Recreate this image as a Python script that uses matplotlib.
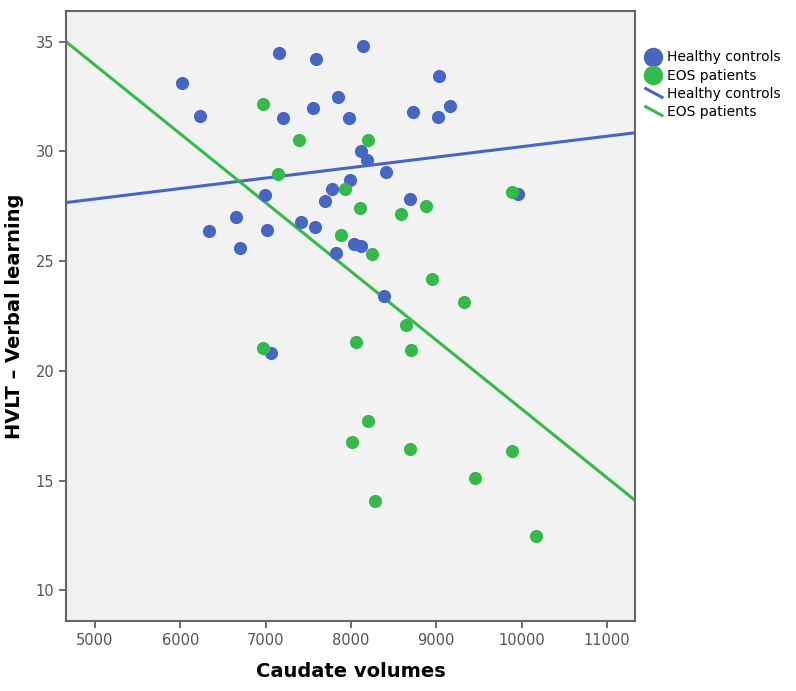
import numpy as np
import matplotlib.pyplot as plt
from matplotlib.lines import Line2D
from matplotlib.legend_handler import HandlerBase

# healthy controls (caudate volume, HVLT score)
hc_x = [6023, 6231, 7161, 7591, 7552, 7200, 6336, 6653, 6997, 6700, 7016, 7419,
        7575, 7696, 8138, 9028, 7853, 7982, 8732, 9021, 9165, 8118, 8189, 8415,
        7986, 7778, 8693, 9963, 8033, 8114, 7822, 8392, 7067]
hc_y = [33.12, 31.63, 34.48, 34.21, 31.98, 31.54, 26.36, 27.01, 28.00, 25.58, 26.40, 26.77,
        26.56, 27.76, 34.79, 33.45, 32.48, 31.54, 31.78, 31.58, 32.05, 30.00, 29.62, 29.08,
        28.68, 28.27, 27.83, 28.08, 25.78, 25.67, 25.36, 23.43, 20.83]

# EOS patients
eos_x = [6973, 7395, 7145, 8197, 7934, 8111, 8587, 8876, 9889, 7880, 8243, 8954,
         9321, 8646, 6973, 8056, 8701, 8204, 8013, 8693, 9885, 9455, 8279, 10166]
eos_y = [32.16, 30.52, 28.97, 30.52, 28.30, 27.42, 27.16, 27.50, 28.15, 26.19, 25.34, 24.19,
         23.14, 22.11, 21.05, 21.30, 20.97, 17.73, 16.75, 16.44, 16.35, 15.12, 14.09, 12.46]

# fit lines, read at the axis edges
fit_x = [4660, 11330]
hc_fit = [27.67, 30.85]
eos_fit = [35.0, 14.1]

blue = '#4766c4'
green = '#35b94b'


class DiagLine(HandlerBase):
    def create_artists(self, legend, orig, xd, yd, w, h, fontsize, trans):
        ln = Line2D([xd + 0.1 * w, xd + w], [yd + h * 0.95, yd + h * 0.05],
                    color=orig.get_color(), lw=orig.get_linewidth())
        ln.set_transform(trans)
        return [ln]


fig = plt.figure(figsize=(7.96, 6.91), dpi=100)
ax = fig.add_axes([0.0829, 0.1013, 0.7148, 0.8828])
ax.set_facecolor('#f2f2f2')

ax.scatter(hc_x, hc_y, s=90, color=blue, zorder=3, linewidths=0)
ax.scatter(eos_x, eos_y, s=90, color=green, zorder=3, linewidths=0)
ax.plot(fit_x, hc_fit, color=blue, lw=2.2, zorder=2)
ax.plot(fit_x, eos_fit, color=green, lw=2.2, zorder=2)

ax.set_xlim(4660, 11330)
ax.set_ylim(8.6, 36.4)
ax.set_xticks([5000, 6000, 7000, 8000, 9000, 10000, 11000])
ax.set_yticks([10, 15, 20, 25, 30, 35])
ax.tick_params(colors='#555555', labelsize=10.5, length=5, width=1.2)
for s in ax.spines.values():
    s.set_color('#666666')
    s.set_linewidth(1.5)

ax.set_xlabel('Caudate volumes', fontsize=14, weight='bold', labelpad=10)
ax.set_ylabel('HVLT \u2013 Verbal learning', fontsize=14, weight='bold', labelpad=8)

handles = [
    Line2D([], [], marker='o', ls='', color=blue, markersize=13),
    Line2D([], [], marker='o', ls='', color=green, markersize=13),
    Line2D([], [], color=blue, lw=2.2),
    Line2D([], [], color=green, lw=2.2),
]
labels = ['Healthy controls', 'EOS patients', 'Healthy controls', 'EOS patients']
fig.legend(handles, labels, loc='upper left', bbox_to_anchor=(0.802, 0.935),
           frameon=False, fontsize=10, handlelength=1.3, handletextpad=0.35,
           labelspacing=0.3, borderaxespad=0,
           handler_map={handles[2]: DiagLine(), handles[3]: DiagLine()})

fig.savefig('out.png', dpi=100)
